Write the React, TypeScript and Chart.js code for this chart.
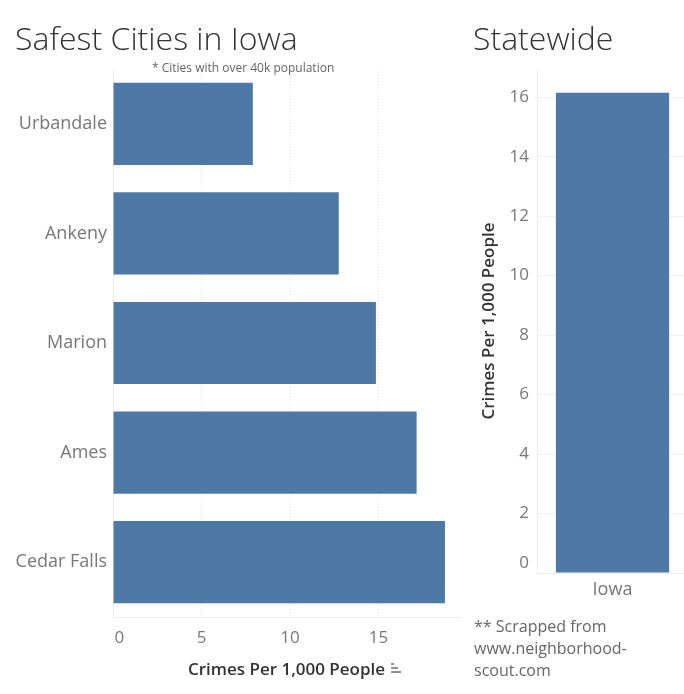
import React, { useEffect, useRef } from "react";
import { Chart, registerables } from "chart.js";
Chart.register(...registerables);

const cities = ["Urbandale", "Ankeny", "Marion", "Ames", "Cedar Falls"];
const cityCrimes = [7.9, 12.75, 14.85, 17.15, 18.75];
const cityTicks = [0, 5, 10, 15];
const stateLabels = ["Iowa"];
const stateCrimes = [16.15];
const stateTicks = [0, 2, 4, 6, 8, 10, 12, 14, 16];

const FONT = "'Open Sans', 'Noto Sans', sans-serif";
const BAR = "#4e79a7";
const TICK = "#777777";
const DARK = "#333333";
const AXIS_TITLE = "Crimes Per 1,000 People";

const sortIcon = {
  id: "sortIcon",
  afterDraw(chart: any) {
    const x = chart.scales.x;
    const ctx = chart.ctx;
    ctx.save();
    ctx.font = `600 17px ${FONT}`;
    const w = ctx.measureText(AXIS_TITLE).width;
    const cx = (x.left + x.right) / 2;
    const sx = cx + w / 2 + 6;
    const y = 669;
    ctx.strokeStyle = "#555";
    ctx.lineWidth = 1.3;
    const rows = [[-5, 3], [-1, 7], [3, 10]];
    for (const [dy, len] of rows) {
      ctx.beginPath();
      ctx.moveTo(sx, y + dy);
      ctx.lineTo(sx + len, y + dy);
      ctx.stroke();
    }
    ctx.restore();
  },
};

function CityChart() {
  const ref = useRef<HTMLCanvasElement>(null);
  useEffect(() => {
    const chart = new Chart(ref.current!, {
      type: "bar",
      data: {
        labels: cities,
        datasets: [
          {
            data: cityCrimes,
            backgroundColor: BAR,
            categoryPercentage: 0.75,
            barPercentage: 1,
          },
        ],
      },
      options: {
        indexAxis: "y",
        responsive: false,
        animation: false,
        layout: { padding: { top: 69, right: 10, left: 0, bottom: 0 } },
        plugins: { legend: { display: false }, tooltip: { enabled: false } },
        scales: {
          x: {
            min: 0,
            max: 19.6,
            afterBuildTicks: (s: any) => {
              s.ticks = cityTicks.map((v) => ({ value: v }));
            },
            afterFit: (s: any) => {
              s.height = 77;
            },
            grid: {
              color: (c: any) => (c.tick && c.tick.value === 0 ? "rgba(0,0,0,0)" : "#e2e2e2"),
              drawTicks: false,
            },
            border: { color: "#ececec", dash: [1, 2] },
            ticks: {
              padding: 11,
              color: TICK,
              font: { size: 17, family: FONT },
              maxRotation: 0,
              callback: (v: any) => (v === 0 ? "\u2002 0" : String(v)),
            },
            title: {
              display: true,
              text: AXIS_TITLE,
              color: DARK,
              font: { size: 17, family: FONT, weight: "600" },
              padding: { top: 0, bottom: 14 },
            },
          },
          y: {
            afterFit: (s: any) => {
              s.width = 113;
            },
            grid: { display: false, drawTicks: false },
            border: { color: "#ececec" },
            ticks: { color: TICK, font: { size: 18, family: FONT }, padding: 6 },
          },
        },
      },
      plugins: [sortIcon],
    } as any);
    return () => chart.destroy();
  }, []);
  return (
    <canvas
      ref={ref}
      width={470}
      height={694}
      style={{ position: "absolute", left: 0, top: 0, width: 470, height: 694 }}
    />
  );
}

function StateChart() {
  const ref = useRef<HTMLCanvasElement>(null);
  useEffect(() => {
    const chart = new Chart(ref.current!, {
      type: "bar",
      data: {
        labels: stateLabels,
        datasets: [
          {
            data: stateCrimes,
            backgroundColor: BAR,
            categoryPercentage: 1,
            barPercentage: 0.75,
          },
        ],
      },
      options: {
        responsive: false,
        animation: false,
        layout: { padding: { top: 69, right: 0, left: 0, bottom: 0 } },
        plugins: { legend: { display: false }, tooltip: { enabled: false } },
        scales: {
          x: {
            afterFit: (s: any) => {
              s.height = 121;
            },
            grid: { display: false, drawTicks: false },
            border: { color: "#ececec" },
            ticks: { padding: 6, color: TICK, font: { size: 18, family: FONT } },
          },
          y: {
            min: 0,
            max: 16.95,
            afterBuildTicks: (s: any) => {
              s.ticks = stateTicks.map((v) => ({ value: v }));
            },
            afterFit: (s: any) => {
              s.width = 77;
            },
            grid: { color: "#f0f0f0", drawTicks: false },
            border: { color: "#ececec" },
            ticks: {
              padding: 8,
              color: TICK,
              font: { size: 17, family: FONT },
              callback: (v: any) => (v === 0 ? ["0", ""] : String(v)),
            },
            title: {
              display: true,
              text: AXIS_TITLE,
              color: DARK,
              font: { size: 17, family: FONT, weight: "600" },
              padding: { top: 19, bottom: 0 },
            },
          },
        },
      },
    } as any);
    return () => chart.destroy();
  }, []);
  return (
    <canvas
      ref={ref}
      width={228}
      height={694}
      style={{ position: "absolute", left: 460, top: 0, width: 228, height: 694 }}
    />
  );
}

export default function App() {
  const text: React.CSSProperties = { position: "absolute", fontFamily: FONT, whiteSpace: "nowrap", margin: 0 };
  return (
    <div
      style={{
        position: "fixed",
        left: 0,
        top: 0,
        width: 684,
        height: 694,
        overflow: "hidden",
        background: "#fff",
      }}
    >
      <CityChart />
      <StateChart />
      <div style={{ ...text, left: 15, top: 18, fontSize: 32, color: DARK, lineHeight: "40px", fontWeight: 300 }}>
        Safest Cities in Iowa
      </div>
      <div style={{ ...text, left: 473, top: 18, fontSize: 32, color: DARK, lineHeight: "40px", fontWeight: 300 }}>
        Statewide
      </div>
      <div style={{ ...text, left: 152, top: 60, fontSize: 12, color: "#666", lineHeight: "16px" }}>
        * Cities with over 40k population
      </div>
      <div style={{ ...text, left: 474, top: 615, fontSize: 16, color: "#666", lineHeight: "22px" }}>
        ** Scrapped from
        <br />
        www.neighborhood-
        <br />
        scout.com
      </div>
    </div>
  );
}
